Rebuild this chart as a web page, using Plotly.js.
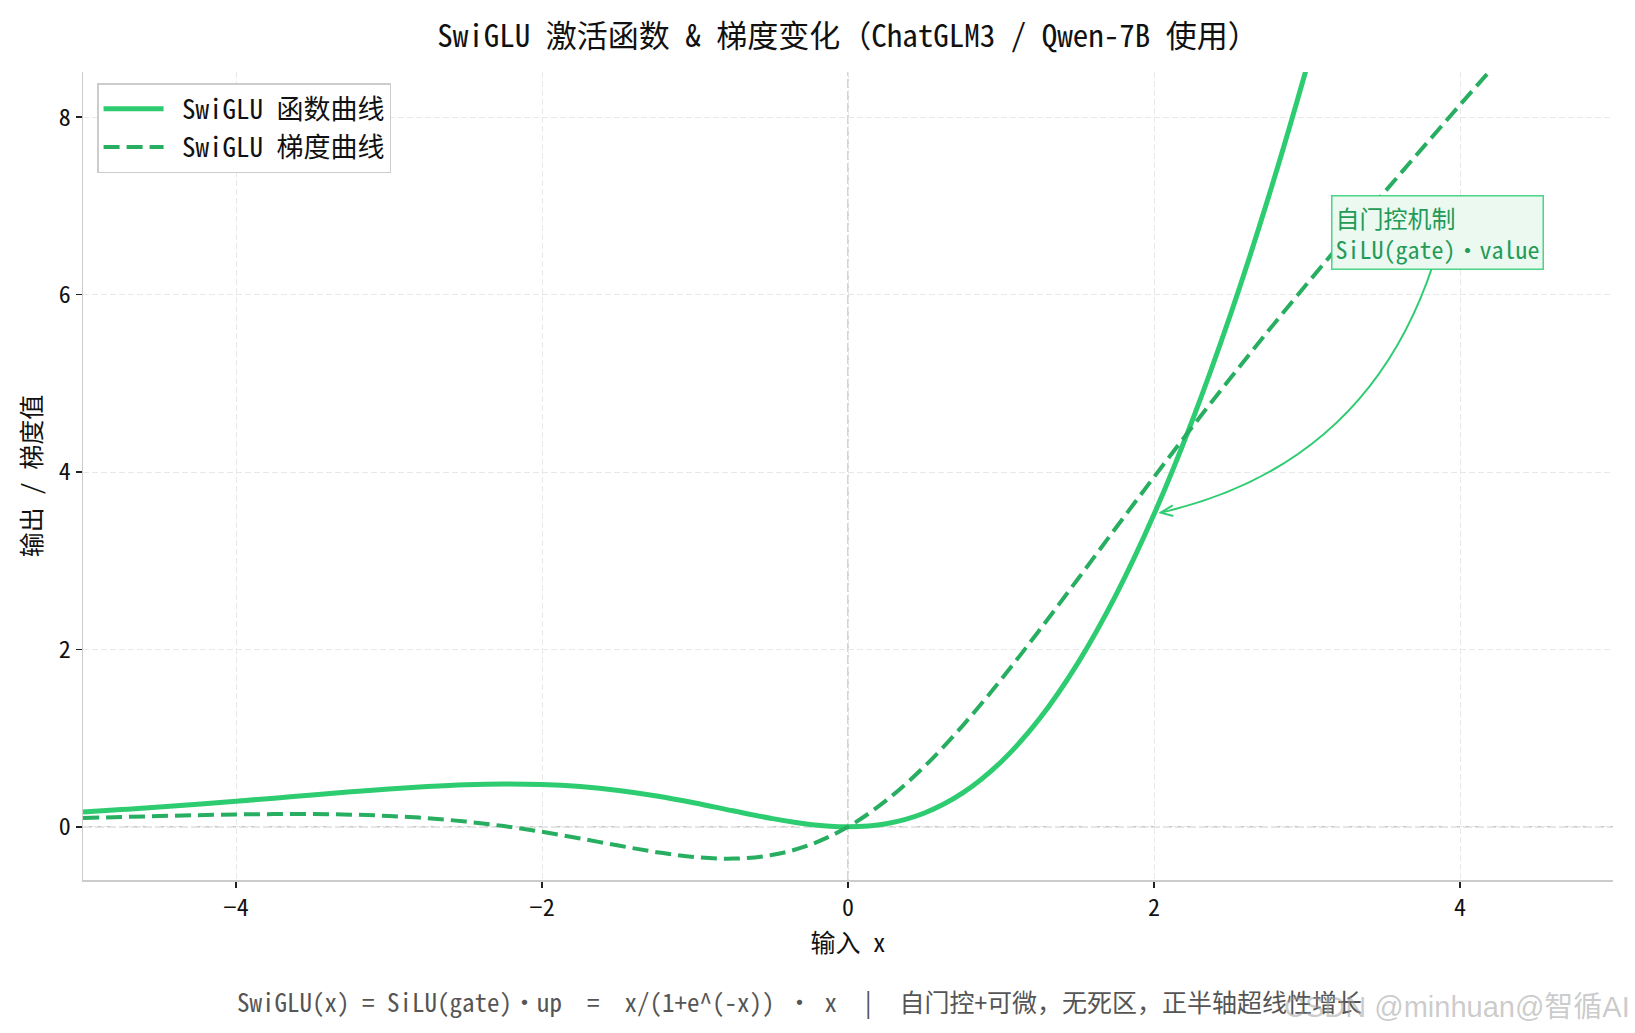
<!DOCTYPE html>
<html>
<head>
<meta charset="utf-8">
<script src="https://cdn.plot.ly/plotly-3.0.1.min.js"></script>
<style>
  html, body { margin: 0; padding: 0; background: #fff; }
  #chart { width: 1635px; height: 1033px; }
</style>
</head>
<body>
<div id="chart"></div>
<script>
// ---- data ----
const xValues = [-5, -4.75, -4.5, -4.25, -4, -3.75, -3.5, -3.25, -3, -2.75, -2.5, -2.25, -2, -1.75, -1.5, -1.25, -1, -0.75, -0.5, -0.25,
                 0, 0.25, 0.5, 0.75, 1, 1.25, 1.5, 1.75, 2, 2.25, 2.5, 2.75, 3, 3.25, 3.5, 3.75, 4, 4.25, 4.5];

// SwiGLU output
const swigluValues = [0.167, 0.194, 0.222, 0.254, 0.288, 0.323, 0.359, 0.394, 0.427, 0.454, 0.474, 0.483, 0.477, 0.453, 0.410, 0.348, 0.269, 0.180, 0.094, 0.027,
                      0, 0.035, 0.156, 0.382, 0.731, 1.215, 1.840, 2.609, 3.523, 4.580, 5.776, 7.108, 8.573, 10.17, 11.89, 13.74, 15.71, 17.81, 20.03];

// SwiGLU gradient
const gradValues = [0.099, 0.110, 0.121, 0.131, 0.139, 0.143, 0.143, 0.137, 0.122, 0.097, 0.059, 0.008, -0.057, -0.132, -0.212, -0.286, -0.341, -0.359, -0.319, -0.204,
                    0, 0.297, 0.681, 1.141, 1.659, 2.214, 2.788, 3.368, 3.943, 4.508, 5.059, 5.597, 6.122, 6.637, 7.143, 7.643, 8.139, 8.631, 9.121];

const xTicks = [-4, -2, 0, 2, 4];
const yTicks = [0, 2, 4, 6, 8];
const seriesNames = ['SwiGLU 函数曲线', 'SwiGLU 梯度曲线'];

const FONT = "'Noto Sans Mono CJK SC', 'Noto Sans CJK SC', 'DejaVu Sans Mono', sans-serif";
const GREEN = '#2ecc71';
const DARK_GREEN = '#27ae60';

const traces = [
    {
        x: xValues,
        y: swigluValues,
        name: '\u00a0' + seriesNames[0],
        type: 'scatter',
        mode: 'lines',
        line: { color: GREEN, width: 5, shape: 'spline', smoothing: 1 }
    },
    {
        x: xValues,
        y: gradValues,
        name: '\u00a0' + seriesNames[1],
        type: 'scatter',
        mode: 'lines',
        line: { color: DARK_GREEN, width: 4, dash: '16px,7px', shape: 'spline', smoothing: 1 }
    }
];

const axisCommon = {
    showline: true,
    linecolor: '#cccccc',
    linewidth: 1.5,
    mirror: false,
    ticks: 'outside',
    ticklen: 6,
    tickwidth: 1.5,
    tickcolor: '#222',
    showgrid: true,
    gridcolor: '#e8e8e8',
    gridwidth: 1,
    griddash: '6px,3px',
    zeroline: false,
    tickfont: { family: FONT, size: 24, color: '#111' }
};

const layout = {
    width: 1635,
    height: 1033,
    margin: { l: 83, r: 22, t: 72, b: 153 },
    paper_bgcolor: '#ffffff',
    plot_bgcolor: '#ffffff',
    font: { family: FONT, color: '#111' },
    title: {
        text: 'SwiGLU 激活函数 & 梯度变化（ChatGLM3 / Qwen-7B 使用）',
        font: { family: FONT, size: 31, color: '#111' },
        x: 0.5, xref: 'paper', xanchor: 'center',
        y: 0.9647, yref: 'container', yanchor: 'middle'
    },
    xaxis: Object.assign({}, axisCommon, {
        range: [-5, 5],
        tickvals: xTicks,
        ticktext: xTicks.map(v => (v < 0 ? '\u2212' + Math.abs(v) : String(v))),
        title: { text: '输入 x', font: { family: FONT, size: 25, color: '#111' }, standoff: 3 }
    }),
    yaxis: Object.assign({}, axisCommon, {
        range: [-0.60, 8.51],
        tickvals: yTicks,
        ticktext: yTicks.map(String),
        title: { text: '输出 / 梯度值', font: { family: FONT, size: 25, color: '#111' }, standoff: 10 }
    }),
    showlegend: true,
    legend: {
        x: 0.0092, y: 0.986, xanchor: 'left', yanchor: 'top',
        bgcolor: '#ffffff',
        bordercolor: '#cccccc',
        borderwidth: 1.5,
        font: { family: FONT, size: 27, color: '#111' },
        itemwidth: 60,
        tracegroupgap: 2
    },
    shapes: [
        // dashed reference lines at x=0 / y=0
        { type: 'line', xref: 'x', yref: 'paper', x0: 0, x1: 0, y0: 0, y1: 1,
          line: { color: '#c8c8c8', width: 1.5, dash: '9px,3px' }, layer: 'below' },
        { type: 'line', xref: 'paper', yref: 'y', x0: 0, x1: 1, y0: 0, y1: 0,
          line: { color: '#c8c8c8', width: 1.5, dash: '9px,3px' }, layer: 'below' },
        // curved annotation arrow
        { type: 'path', xref: 'x', yref: 'y',
          path: 'M 3.824,6.34 Q 3.392,4.075 2.044,3.542',
          line: { color: GREEN, width: 2 } },
        { type: 'path', xref: 'x', yref: 'y',
          path: 'M 2.122,3.624 L 2.044,3.542 L 2.126,3.504',
          line: { color: GREEN, width: 2 } }
    ],
    annotations: [
        {
            xref: 'x', yref: 'y', x: 3.157, y: 7.12,
            xanchor: 'left', yanchor: 'top', align: 'left',
            text: '自门控机制<br>SiLU(gate)・value',
            showarrow: false,
            font: { family: FONT, size: 24, color: '#239b56' },
            bgcolor: '#ebf9f1',
            bordercolor: 'rgba(46,204,113,0.85)',
            borderwidth: 1.5,
            borderpad: 3
        },
        {
            xref: 'paper', yref: 'paper', x: 0.468, y: -0.1498,
            xanchor: 'center', yanchor: 'middle',
            text: 'SwiGLU(x) = SiLU(gate)・up  =  x/(1+e^(-x)) ・ x  |  自门控+可微，无死区，正半轴超线性增长',
            showarrow: false,
            font: { family: FONT, size: 25, color: '#555555' }
        },
        {
            xref: 'paper', yref: 'paper', x: 1.0124, y: -0.157,
            xanchor: 'right', yanchor: 'middle',
            text: 'CSDN @minhuan@智循AI',
            showarrow: false,
            font: { family: "'Liberation Sans', 'Noto Sans CJK SC', sans-serif", size: 29, color: 'rgba(160,160,160,0.55)' }
        }
    ]
};

Plotly.newPlot('chart', traces, layout, { displayModeBar: false, staticPlot: true });
</script>
</body>
</html>
